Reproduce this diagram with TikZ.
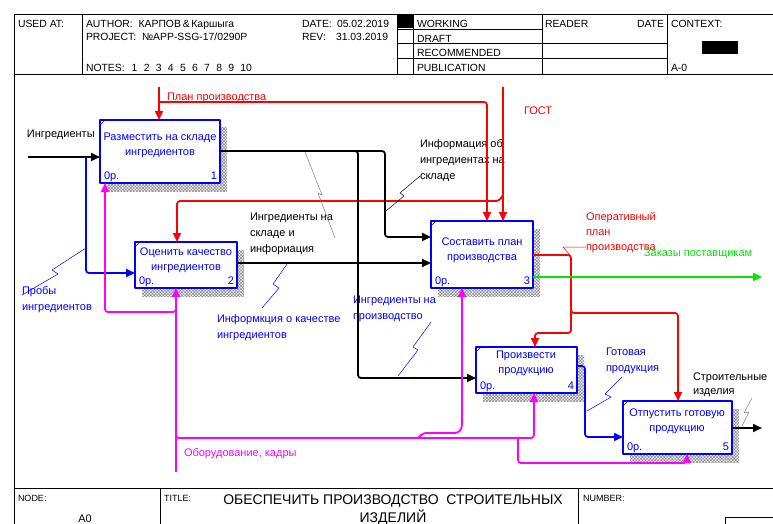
\documentclass[tikz,border=0pt]{standalone}
\usepackage{fontspec}
\setmainfont{Liberation Sans}
\usetikzlibrary{arrows.meta,patterns.meta,shadows}
\definecolor{idblue}{RGB}{0,0,255}
\definecolor{idred}{RGB}{255,0,0}
\definecolor{idmag}{RGB}{255,0,255}
\definecolor{idgreen}{RGB}{0,230,0}
\newcommand\MLleft[2][16pt]{\vtop{\baselineskip=#1\halign{##\hfil\cr#2\crcr}}}
\newcommand\MLcent[2][15.5pt]{\vtop{\baselineskip=#1\halign{\hfil##\hfil\cr#2\crcr}}}
\begin{document}
\begin{tikzpicture}[x=1pt,y=-1pt,line join=round,
  every node/.style={inner sep=0pt,outer sep=0pt},
  lab/.style={anchor=base west,font=\fontsize{11}{16}\selectfont},
  hdr/.style={anchor=base west,font=\fontsize{10.4}{12}\selectfont},
  ftr/.style={anchor=base west,font=\fontsize{9}{11}\selectfont},
  box/.style={draw=idblue,line width=1.8pt,fill=white,anchor=north west,
    general shadow={shadow xshift=7pt,shadow yshift=-8pt,
      pattern={Hatch[angle=45,distance=2.2pt,line width=0.6pt]},pattern color=gray!90}},
  btxt/.style={anchor=base,text=idblue,font=\fontsize{11}{15.5}\selectfont},
  bnum/.style={text=idblue,font=\fontsize{11}{13}\selectfont},
  flow/.style={line width=1.8pt,rounded corners=3pt},
  tip/.style={-{Triangle[length=9pt,width=8pt]}},
  lead/.style={line width=0.5pt},
  frame/.style={line width=0.9pt}]
\useasboundingbox (0,0) rectangle (773,524);

% ---------- frame ----------
\draw[frame] (14,526) -- (14,14) -- (775,14);
\draw[frame] (14,74) -- (775,74);
\draw[frame] (14,488) -- (775,488);
\draw[frame] (82,14) -- (82,74);
\draw[frame] (397,14) -- (397,74);
\draw[frame] (413,14) -- (413,74);
\draw[frame] (542,14) -- (542,74);
\draw[frame] (667,14) -- (667,74);
\draw[frame] (397,29) -- (542,29);
\draw[frame] (397,43) -- (667,43);
\draw[frame] (397,58) -- (667,58);
\fill (397,14) rectangle (413,28);
\fill (702,41) rectangle (738,54);
\draw[frame] (160,488) -- (160,526);
\draw[frame] (578,488) -- (578,526);
\draw[frame] (725,526) -- (725,517) -- (775,517);

% ---------- header text ----------
\node[hdr] (hUsed) at (18,28) {USED AT:};
\node[hdr] (hAuth) at (86,28) {AUTHOR:\ \ КАРПОВ\,\&\,Каршыга};
\node[hdr] (hProj) at (86,41) {PROJECT:\ \ №APP-SSG-17/0290P};
\node[hdr] (hDate) at (302,28) {\makebox[35pt][l]{DATE:}05.02.2019};
\node[hdr] (hRev) at (302,41) {\makebox[34pt][l]{REV:}31.03.2019};
\node[hdr] (hNotes) at (86,72) {NOTES:\hspace{7pt}1\hspace{6.3pt}2\hspace{6.3pt}3\hspace{6.3pt}4\hspace{6.3pt}5\hspace{6.3pt}6\hspace{6.3pt}7\hspace{6.3pt}8\hspace{6.3pt}9\hspace{6.3pt}10};
\node[hdr] (sW) at (417,28) {WORKING};
\node[hdr] (sD) at (417,43) {DRAFT};
\node[hdr] (sR) at (417,57) {RECOMMENDED};
\node[hdr] (sP) at (417,72) {PUBLICATION};
\node[hdr] (hRd) at (545,28) {READER};
\node[hdr,anchor=base east] (hDt) at (664,28) {DATE};
\node[hdr] (hCtx) at (671,28) {CONTEXT:};
\node[hdr] (hA0) at (671,72) {A-0};

% ---------- footer text ----------
\node[ftr] (fNode) at (18,501) {NODE:};
\node[ftr] (fTitle) at (164,501) {TITLE:};
\node[ftr] (fNum) at (583,501) {NUMBER:};
\node[anchor=base,font=\fontsize{14}{18}\selectfont] (fT) at (393,504)
  {\MLcent[18pt]{ОБЕСПЕЧИТЬ ПРОИЗВОДСТВО\ \ СТРОИТЕЛЬНЫХ\cr ИЗДЕЛИЙ}};
\node[anchor=base,font=\fontsize{11}{13}\selectfont] (fA0) at (85,522) {A0};

% ---------- boxes ----------
\node[box,minimum width=120pt,minimum height=63pt] (b1) at (100,120) {};
\node[box,minimum width=102pt,minimum height=46pt] (b2) at (135,242) {};
\node[box,minimum width=102pt,minimum height=67pt] (b3) at (431,221) {};
\node[box,minimum width=101pt,minimum height=46pt] (b4) at (476,347) {};
\node[box,minimum width=109pt,minimum height=53pt] (b5) at (623,401) {};
\foreach \b in {b1,b2,b3,b4,b5}{
  \draw[idblue,line width=0.6pt] ([yshift=-5pt]\b.north west) -- ([xshift=5pt]\b.north west);
}
\node[btxt] (t1) at (160,140) {\MLcent{Разместить на складе\cr ингредиентов}};
\node[btxt] (t2) at (186,255) {\MLcent{Оценить качество\cr ингредиентов}};
\node[btxt] (t3) at (482,245) {\MLcent{Составить план\cr производства}};
\node[btxt] (t4) at (526,358) {\MLcent{Произвести\cr продукцию}};
\node[btxt] (t5) at (677,416) {\MLcent{Отпустить готовую\cr продукцию}};
\node[bnum,anchor=base west] (n1a) at (104,179) {0р.};
\node[bnum,anchor=base east] (n1b) at (217,179) {1};
\node[bnum,anchor=base west] (n2a) at (139,284) {0р.};
\node[bnum,anchor=base east] (n2b) at (234,284) {2};
\node[bnum,anchor=base west] (n3a) at (435,284) {0р.};
\node[bnum,anchor=base east] (n3b) at (530,284) {3};
\node[bnum,anchor=base west] (n4a) at (480,389) {0р.};
\node[bnum,anchor=base east] (n4b) at (574,389) {4};
\node[bnum,anchor=base west] (n5a) at (627,450) {0р.};
\node[bnum,anchor=base east] (n5b) at (729,450) {5};

% ---------- labels ----------
\node[lab] (lIng) at (27,138) {Ингредиенты};
\node[lab,text=idred] (lPlan) at (167,101) {План производства};
\node[lab,text=idred] (lGost) at (524,114) {ГОСТ};
\node[lab] (lInfo) at (420,147) {\MLleft{Информация об\cr ингредиентах на\cr складе}};
\node[lab] (lSkl) at (250,220) {\MLleft{Ингредиенты на\cr складе и\cr инфориация}};
\node[lab,text=idred] (lOper) at (586,220) {\MLleft[15pt]{Оперативный\cr план\cr производства}};
\node[lab,text=idgreen] (lZak) at (644,256) {Заказы поставщикам};
\node[lab,text=idblue] (lProb) at (22,294) {\MLleft{Пробы\cr ингредиентов}};
\node[lab,text=idblue] (lKach) at (217,322) {\MLleft{Информкция о качестве\cr ингредиентов}};
\node[lab,text=idblue] (lProizv) at (353,303) {\MLleft{Ингредиенты на\cr производство}};
\node[lab,text=idblue] (lGot) at (606,355) {\MLleft{Готовая\cr продукция}};
\node[lab] (lStr) at (693,380) {\MLleft[14pt]{Строительные\cr изделия}};
\node[lab,text=idmag] (lObor) at (184,456) {Оборудование, кадры};

% ---------- connectors ----------
\coordinate (cIng) at (28,157);
\draw[flow,tip] (cIng) -- (b1.west |- cIng);
\draw[flow,idblue,tip] (86,157) -- (86,273) -- (b2.west |- 86,273);

\coordinate (cPlan) at (159,87);
\draw[flow,idred,tip] (cPlan) -- (cPlan |- b1.north);
\draw[flow,idred,tip] (159,102) -- (487,102) -- (487,102 |- b3.north);
\coordinate (cGost) at (503,87);
\draw[flow,idred,tip] (cGost) -- (cGost |- b3.north);
\draw[flow,idred,tip] (503,195) -- (499,201) -- (177,201) -- (177,201 |- b2.north);

\draw[flow,tip] (b1.east |- 0,151) -- (385,151) -- (385,237) -- (b3.west |- 0,237);
\draw[flow,tip] (350,151) -- (358,151) -- (358,378) -- (b4.west |- 0,378);
\draw[flow,tip] (b2.east |- 0,263) -- (b3.west |- 0,263);

\draw[flow,idred,tip] (b3.east |- 0,255) -- (571,255) -- (571,333) -- (535,333) -- (535,333 |- b4.north);
\draw[flow,idred,tip] (571,305) -- (571,313) -- (678,313) -- (678,313 |- b5.north);
\coordinate (cZak) at (762,277);
\draw[flow,idgreen,tip] (b3.east |- cZak) -- (cZak);

\draw[flow,idblue,tip] (b4.east |- 0,366) -- (585,366) -- (585,437) -- (b5.west |- 0,437);
\coordinate (cStr) at (762,428);
\draw[flow,tip] (b5.east |- cStr) -- (cStr);

\coordinate (cMech) at (176,472);
\draw[flow,idmag,tip] (cMech) -- (cMech |- b2.south);
\draw[flow,idmag,tip] (176,305) -- (176,312) -- (105,312) -- (105,312 |- b1.south);
\draw[flow,idmag,tip] (176,430) -- (176,438) -- (534,438) -- (534,438 |- b4.south);
\draw[flow,idmag,tip] (418,438) -- (423,433) -- (458,433) -- (462,428) -- (462,428 |- b3.south);
\draw[flow,idmag,tip] (518,438) -- (518,463) -- (687,463) -- (687,463 |- b5.south);

% ---------- leaders ----------
\draw[lead,idblue] (86,248) -- (52,270) -- (58,274) -- (22,295);
\draw[lead] (386,211) -- (404,196) -- (400,193) -- (420,176);
\draw[lead,gray] (305,152) -- (322,195) -- (318,193) -- (335,238);
\draw[lead,idblue] (287,264) -- (273,284) -- (279,288) -- (262,308);
\draw[lead,idblue] (431,322) -- (413,347) -- (418,350) -- (398,376);
\draw[lead,idblue] (622,377) -- (605,394) -- (611,397) -- (587,411);
\draw[lead,gray] (752,398) -- (744,413) -- (749,412) -- (742,426);
\draw[lead,idred] (570,255) -- (563,247) -- (586,247);
\end{tikzpicture}
\end{document}
